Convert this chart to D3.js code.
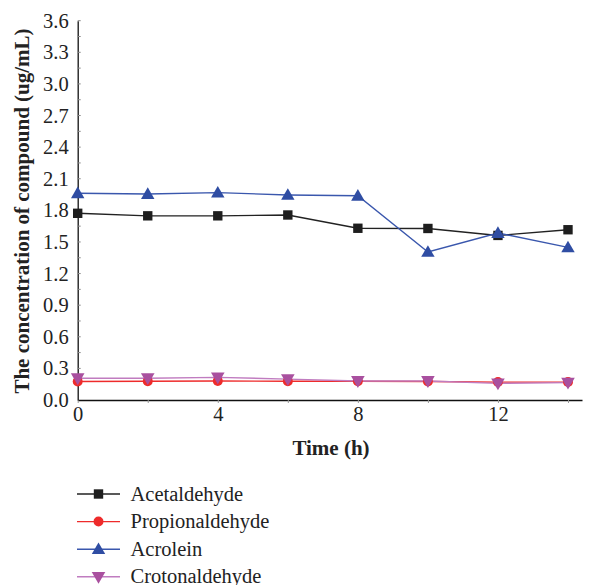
<!DOCTYPE html>
<html><head><meta charset="utf-8">
<script src="https://cdn.jsdelivr.net/npm/d3@7"></script>
<style>body{margin:0;background:#fff;} svg{display:block;} text{font-family:"Liberation Serif","DejaVu Serif",serif;}</style>
</head><body>
<svg id="chart" width="592" height="585"></svg>
<script>
const times = [0, 2, 4, 6, 8, 10, 12, 14];
const acetaldehyde   = [1.772, 1.748, 1.748, 1.756, 1.630, 1.628, 1.562, 1.616];
const propionaldehyde= [0.175, 0.178, 0.180, 0.178, 0.178, 0.176, 0.170, 0.170];
const acrolein       = [1.962, 1.955, 1.968, 1.946, 1.938, 1.405, 1.585, 1.448];
const crotonaldehyde = [0.206, 0.207, 0.215, 0.198, 0.180, 0.180, 0.158, 0.165];
const seriesNames = ["Acetaldehyde", "Propionaldehyde", "Acrolein", "Crotonaldehyde"];
const xTickLabels = [0, 4, 8, 12];
const yTickLabels = [0, 0.3, 0.6, 0.9, 1.2, 1.5, 1.8, 2.1, 2.4, 2.7, 3.0, 3.3, 3.6];

const styles = [
  {line:"#222", fill:"#1e1e1e", sym:d3.symbolSquare, size:88, rot:0, dy:0},
  {line:"#ee2b2b", fill:"#ee2b2b", sym:d3.symbolCircle, size:78, rot:0, dy:0},
  {line:"#3a57ad", fill:"#2f4da3", sym:d3.symbolTriangle, size:78, rot:0, dy:1},
  {line:"#c07cc0", fill:"#a9509f", sym:d3.symbolTriangle, size:80, rot:180, dy:-1}
];
const data = [acetaldehyde, propionaldehyde, acrolein, crotonaldehyde];

const svg = d3.select("#chart");
const font = "Liberation Serif, DejaVu Serif, serif";
const fs = 20.5;
const x = d3.scaleLinear().domain([0, 14.4]).range([77.7, 582]);
const y = d3.scaleLinear().domain([0, 3.6]).range([400, 20.7]);

// axes
const xAxis = svg.append("g").attr("transform", `translate(0,${y(0)})`)
  .call(d3.axisBottom(x).tickValues(d3.range(0, 15, 2)).tickSize(3).tickSizeOuter(0)
        .tickFormat(d => xTickLabels.includes(d) ? d : ""));
xAxis.select(".domain").attr("stroke", "#111").attr("stroke-width", 1.3);
xAxis.selectAll(".tick line").attr("stroke", "#999");
xAxis.selectAll(".tick text").attr("font-family", font).attr("font-size", fs).attr("fill", "#222")
  .attr("y", 21).attr("dy", 0);

const yAxis = svg.append("g").attr("transform", `translate(${x(0)},0)`)
  .call(d3.axisLeft(y).tickValues(yTickLabels).tickSize(0).tickSizeOuter(0).tickPadding(9).tickFormat(d3.format(".1f")));
yAxis.select(".domain").attr("stroke", "#111").attr("stroke-width", 1.3);
yAxis.selectAll(".tick text").attr("font-family", font).attr("font-size", fs).attr("fill", "#222");
// small inward minor ticks
svg.append("g").selectAll("line").data(d3.range(0.15, 3.6, 0.15)).join("line")
  .attr("x1", x(0)).attr("x2", x(0) + 3).attr("y1", d => y(d)).attr("y2", d => y(d))
  .attr("stroke", "#888").attr("stroke-width", 1);

// titles
svg.append("text").attr("x", 331).attr("y", 455).attr("text-anchor", "middle")
  .attr("font-family", font).attr("font-weight", "bold").attr("font-size", 21).attr("fill", "#222").text("Time (h)");
svg.append("text").attr("transform", "translate(29,211) rotate(-90)").attr("text-anchor", "middle")
  .attr("font-family", font).attr("font-weight", "bold").attr("font-size", 21).attr("fill", "#222")
  .text("The concentration of compound (ug/mL)");

// lines and markers
const line = d3.line().x((d, i) => x(times[i])).y(d => y(d));
data.forEach((vals, k) => {
  const s = styles[k];
  svg.append("path").datum(vals).attr("d", line).attr("fill", "none")
    .attr("stroke", s.line).attr("stroke-width", 1.4);
});
data.forEach((vals, k) => {
  const s = styles[k];
  svg.append("g").selectAll("path").data(vals).join("path")
    .attr("d", d3.symbol().type(s.sym).size(s.size))
    .attr("transform", (d, i) => `translate(${x(times[i])},${y(d) + s.dy}) rotate(${s.rot})`)
    .attr("fill", s.fill);
});

// legend
const lg = svg.append("g");
seriesNames.forEach((name, k) => {
  const s = styles[k];
  const yy = 494 + k * 27.6;
  lg.append("line").attr("x1", 77).attr("x2", 120).attr("y1", yy).attr("y2", yy)
    .attr("stroke", s.line).attr("stroke-width", 1.4);
  lg.append("path").attr("d", d3.symbol().type(s.sym).size(s.size))
    .attr("transform", `translate(98.5,${yy + s.dy}) rotate(${s.rot})`).attr("fill", s.fill);
  lg.append("text").attr("x", 130.5).attr("y", yy + 6.5)
    .attr("font-family", font).attr("font-size", fs).attr("fill", "#222").text(name);
});
</script>
</body></html>
